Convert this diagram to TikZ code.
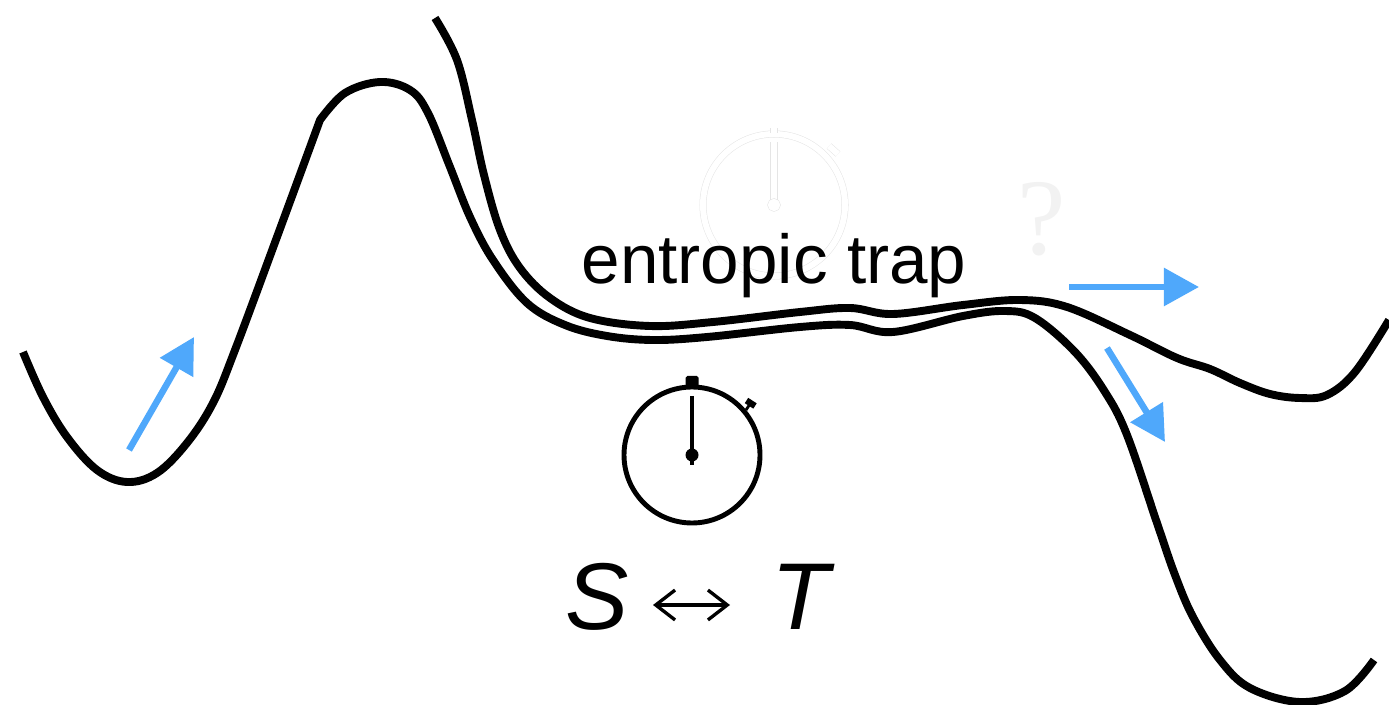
\documentclass[tikz,border=0pt]{standalone}
\usepackage{fontspec}
\setmainfont{Liberation Sans}
\newfontfamily\serifmark{Liberation Serif}
\usepackage{xcolor}
\usetikzlibrary{arrows.meta, positioning}
\definecolor{flowblue}{HTML}{4FA8FB}

\begin{document}
\begin{tikzpicture}[x=0.02cm,y=-0.02cm,>=Stealth,
    landscape/.style={line width=4.5pt,line join=round},
    flow/.style={line width=3.7pt,flowblue,-{Triangle[length=20pt,width=21pt]}},
    watch/.style={line width=2.8pt},
    ghost/.style={draw=black!10,line width=0.3pt,double=white,double distance=3.4pt},
    bigtext/.style={font=\fontsize{39.4}{39.4}\selectfont,inner sep=0pt},
    letter/.style={font=\fontsize{54}{54}\selectfont\itshape,inner sep=0pt}]
  \useasboundingbox (0,0) rectangle (1389,705);
  % faded watch behind the label
  \draw[ghost] (774,205) circle (71);
  \draw[ghost] (774,128) -- (774,133);
  \draw[ghost] (774,142) -- (774,208);
  \draw[ghost] (774,205) circle (3);
  \draw[ghost] (829,146) -- (838,154);
  \node[text=black!5,font=\serifmark\fontsize{62}{62}\selectfont,inner sep=0pt] (mark) at (1042,219) {?};
  % lower path
  \draw[landscape] plot[smooth,tension=0.6] coordinates {
    (23,352) (43,397) (67,437) (97,470) (127,482) (157,473) (187,443)
    (213,403) (235,350) (277,237) (320,120)}
    -- plot[smooth,tension=0.6] coordinates {
    (320,120) (345,93) (380,82) (410,90) (428,113) (450,167) (470,217)
    (493,260) (527,303) (565,325) (607,336) (653,340) (707,337) (800,327)
    (850,325) (893,332) (963,316) (1005,311) (1035,318) (1075,352)
    (1105,392) (1127,435) (1157,523) (1175,575) (1193,617) (1220,660)
    (1250,688) (1300,702) (1345,691) (1374,660)};
  % upper path
  \draw[landscape] plot[smooth,tension=0.6] coordinates {
    (435,18) (457,60) (472,120) (484,175) (500,230) (520,268) (550,298)
    (590,318) (650,326) (713,322) (800,312) (850,308) (893,314) (963,305)
    (1020,300) (1067,307) (1130,335) (1177,358) (1210,369) (1240,383)
    (1270,394) (1300,398) (1327,395) (1355,372) (1389,320)};
  \node[bigtext] (trap) at (774,266) {entropic trap};
  % arrows
  \coordinate (a1) at (129,450);
  \coordinate (a2) at (194,337);
  \coordinate (b1) at (1069,287);
  \coordinate (b2) at (1199,287);
  \coordinate (c1) at (1107,348);
  \coordinate (c2) at (1165,442);
  \draw[flow] (a1) -- (a2);
  \draw[flow] (b1) -- (b2);
  \draw[flow] (c1) -- (c2);
  % stopwatch
  \draw[watch] (692,455) circle (68);
  \fill[rounded corners=1pt] (685.5,376) rectangle (698.5,388);
  \draw[line width=2.2pt] (692,396) -- (692,465);
  \fill (692,455) circle (6.5);
  \draw[line width=1.6pt] (746,410) -- (750,404);
  \draw[line width=3.6pt] (746.5,400.5) -- (755,406);
  \node[letter] (S) at (597,597) {S};
  \node[letter] (T) at (800,597) {T};
  \coordinate (u1) at (653,605);
  \coordinate (u2) at (730,605);
  \draw[line width=1.9pt,{Straight Barb[length=11pt,width=17pt]}-{Straight Barb[length=11pt,width=17pt]}] (u1) -- (u2);
\end{tikzpicture}
\end{document}
